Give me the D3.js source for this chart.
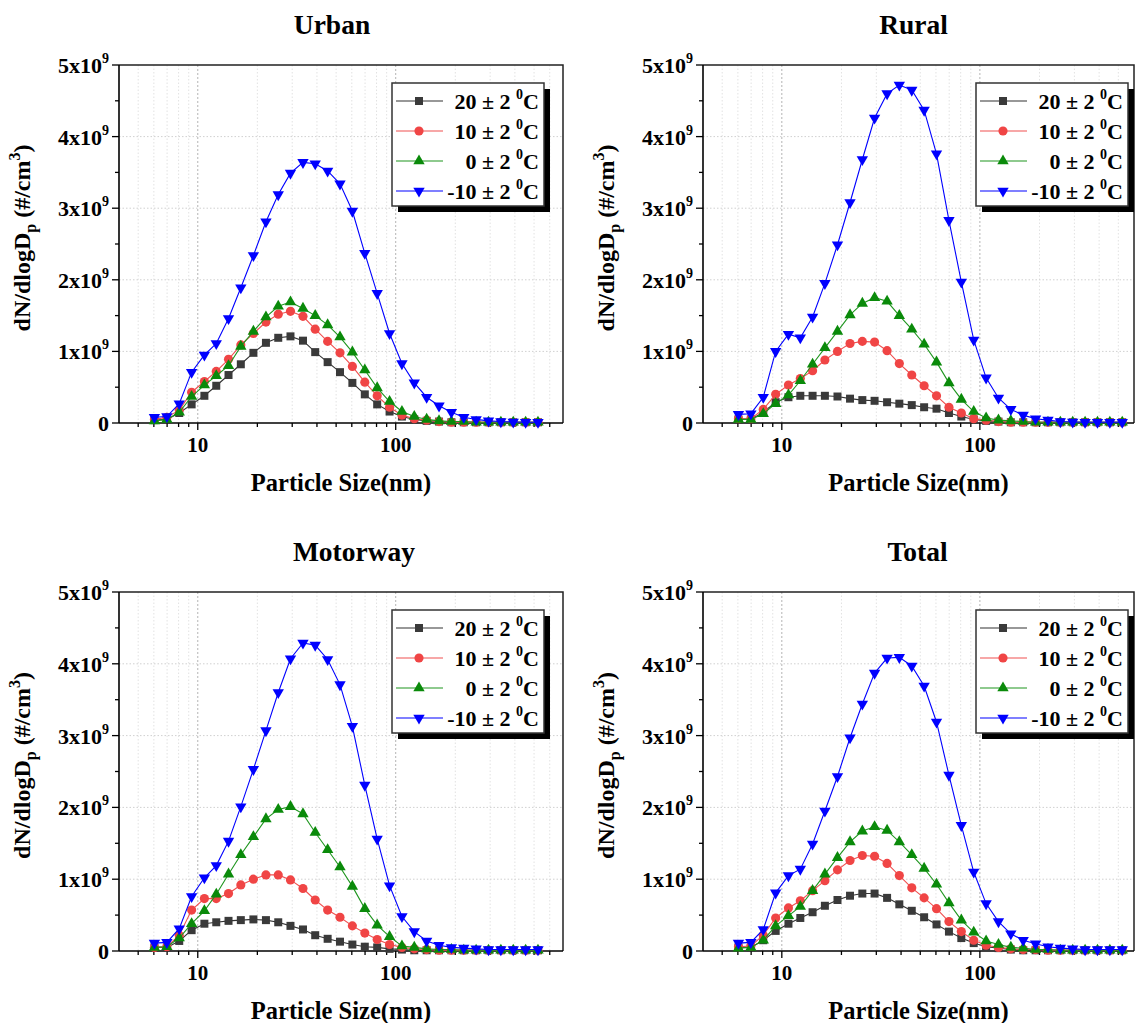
<!DOCTYPE html>
<html lang="en">
<head>
  <meta charset="utf-8" />
  <title>Particle size distributions</title>
  <script src="https://cdn.jsdelivr.net/npm/d3@7"></script>
  <style>
    body { margin: 0; background: #fff; }
    svg { display: block; }
  </style>
</head>
<body>
  <div id="chart"></div>
  <script>
    // FMPS channel mid-points (nm)
    const sizes = [6.04, 6.98, 8.06, 9.31, 10.8, 12.4, 14.3, 16.5, 19.1, 22.1, 25.5, 29.4, 34.0, 39.2, 45.3, 52.3,
                   60.4, 69.8, 80.6, 93.1, 107.5, 124.1, 143.3, 165.5, 191.1, 220.7, 254.8, 294.3, 339.8, 392.4, 453.2, 523.3];
    const temps = ["20", "10", "0", "-10"];
    const titles = ["Urban", "Rural", "Motorway", "Total"];
    const yTicks = [0, 1, 2, 3, 4, 5];   // x10^9
    const xTickLabels = [10, 100];

    // dN/dlogDp in 10^9 #/cm3
    const urban20  = [0.04, 0.05, 0.14, 0.26, 0.38, 0.52, 0.67, 0.82, 0.98, 1.12, 1.19, 1.21, 1.15, 0.99, 0.85, 0.71, 0.56, 0.40, 0.26, 0.16, 0.09, 0.05, 0.03, 0.02, 0.01, 0.01, 0.01, 0.01, 0.01, 0.01, 0.01, 0.01];
    const urban10  = [0.05, 0.08, 0.18, 0.43, 0.58, 0.72, 0.89, 1.09, 1.25, 1.41, 1.52, 1.56, 1.49, 1.31, 1.14, 0.98, 0.79, 0.57, 0.38, 0.22, 0.11, 0.06, 0.04, 0.02, 0.01, 0.01, 0.01, 0.01, 0.01, 0.01, 0.01, 0.01];
    const urban0   = [0.03, 0.05, 0.15, 0.37, 0.53, 0.66, 0.80, 1.07, 1.28, 1.48, 1.63, 1.69, 1.60, 1.50, 1.37, 1.20, 0.99, 0.74, 0.49, 0.30, 0.16, 0.09, 0.05, 0.03, 0.02, 0.02, 0.01, 0.01, 0.01, 0.01, 0.01, 0.01];
    const urbanM10 = [0.08, 0.09, 0.27, 0.71, 0.95, 1.11, 1.46, 1.89, 2.34, 2.81, 3.19, 3.49, 3.64, 3.62, 3.52, 3.34, 2.96, 2.37, 1.81, 1.25, 0.83, 0.56, 0.36, 0.24, 0.15, 0.08, 0.05, 0.03, 0.02, 0.015, 0.01, 0.01];

    const rural20  = [0.05, 0.05, 0.15, 0.29, 0.36, 0.38, 0.38, 0.38, 0.37, 0.34, 0.32, 0.31, 0.29, 0.27, 0.25, 0.22, 0.20, 0.14, 0.09, 0.05, 0.03, 0.02, 0.01, 0.01, 0.01, 0.01, 0.01, 0.01, 0.01, 0.01, 0.01, 0.01];
    const rural10  = [0.06, 0.06, 0.19, 0.40, 0.53, 0.62, 0.73, 0.88, 1.00, 1.11, 1.14, 1.13, 1.01, 0.83, 0.67, 0.52, 0.38, 0.22, 0.14, 0.06, 0.04, 0.02, 0.01, 0.01, 0.01, 0.01, 0.01, 0.01, 0.01, 0.01, 0.01, 0.01];
    const rural0   = [0.05, 0.05, 0.13, 0.27, 0.39, 0.59, 0.82, 1.05, 1.28, 1.51, 1.67, 1.75, 1.70, 1.50, 1.31, 1.10, 0.85, 0.56, 0.33, 0.16, 0.07, 0.04, 0.03, 0.02, 0.01, 0.01, 0.01, 0.01, 0.01, 0.01, 0.01, 0.01];
    const ruralM10 = [0.12, 0.13, 0.36, 1.00, 1.24, 1.19, 1.48, 1.95, 2.49, 3.08, 3.68, 4.26, 4.60, 4.72, 4.65, 4.37, 3.76, 2.83, 1.97, 1.16, 0.63, 0.35, 0.19, 0.11, 0.06, 0.04, 0.02, 0.015, 0.01, 0.01, 0.01, 0.01];

    const motor20  = [0.05, 0.05, 0.14, 0.29, 0.38, 0.40, 0.42, 0.43, 0.44, 0.43, 0.40, 0.35, 0.30, 0.22, 0.17, 0.13, 0.09, 0.06, 0.05, 0.03, 0.02, 0.01, 0.01, 0.01, 0.01, 0.01, 0.01, 0.01, 0.01, 0.01, 0.01, 0.01];
    const motor10  = [0.05, 0.06, 0.22, 0.57, 0.73, 0.73, 0.80, 0.92, 1.00, 1.06, 1.06, 0.99, 0.87, 0.71, 0.57, 0.47, 0.35, 0.25, 0.16, 0.09, 0.05, 0.03, 0.02, 0.01, 0.01, 0.01, 0.01, 0.01, 0.01, 0.01, 0.01, 0.01];
    const motor0   = [0.05, 0.06, 0.18, 0.38, 0.56, 0.79, 1.07, 1.34, 1.59, 1.84, 1.97, 2.01, 1.91, 1.65, 1.41, 1.17, 0.90, 0.59, 0.36, 0.20, 0.07, 0.05, 0.03, 0.02, 0.02, 0.01, 0.01, 0.01, 0.01, 0.01, 0.01, 0.01];
    const motorM10 = [0.11, 0.12, 0.31, 0.76, 1.02, 1.19, 1.53, 2.01, 2.53, 3.07, 3.60, 4.07, 4.29, 4.26, 4.06, 3.71, 3.13, 2.31, 1.56, 0.91, 0.48, 0.27, 0.14, 0.08, 0.05, 0.04, 0.03, 0.02, 0.02, 0.02, 0.02, 0.02];

    const total20  = [0.05, 0.05, 0.15, 0.28, 0.38, 0.46, 0.54, 0.63, 0.71, 0.77, 0.80, 0.80, 0.74, 0.65, 0.56, 0.47, 0.37, 0.27, 0.18, 0.11, 0.06, 0.04, 0.02, 0.01, 0.01, 0.01, 0.01, 0.01, 0.01, 0.01, 0.01, 0.01];
    const total10  = [0.06, 0.07, 0.22, 0.46, 0.60, 0.70, 0.84, 0.98, 1.13, 1.26, 1.33, 1.32, 1.22, 1.05, 0.88, 0.74, 0.59, 0.41, 0.27, 0.15, 0.08, 0.05, 0.03, 0.02, 0.02, 0.01, 0.01, 0.01, 0.01, 0.01, 0.01, 0.01];
    const total0   = [0.04, 0.05, 0.15, 0.35, 0.49, 0.62, 0.84, 1.07, 1.30, 1.52, 1.67, 1.73, 1.68, 1.52, 1.34, 1.15, 0.93, 0.67, 0.43, 0.26, 0.14, 0.09, 0.05, 0.04, 0.02, 0.02, 0.01, 0.01, 0.01, 0.01, 0.01, 0.01];
    const totalM10 = [0.11, 0.12, 0.30, 0.81, 1.05, 1.14, 1.49, 1.95, 2.43, 2.97, 3.44, 3.87, 4.08, 4.09, 3.97, 3.69, 3.19, 2.45, 1.75, 1.10, 0.66, 0.41, 0.24, 0.15, 0.10, 0.06, 0.04, 0.03, 0.02, 0.02, 0.02, 0.02];

    const panelData = [
      [urban20, urban10, urban0, urbanM10],
      [rural20, rural10, rural0, ruralM10],
      [motor20, motor10, motor0, motorM10],
      [total20, total10, total0, totalM10]
    ];

    // series styling
    const fills = ["#3a3a3a", "#f04545", "#0a8a0a", "#0000ff"];
    const strokes = ["#333333", "#f05050", "#1f961f", "#0000ff"];
    const symbols = [
      d3.symbol(d3.symbolSquare, 64),
      d3.symbol(d3.symbolCircle, 66),
      d3.symbol(d3.symbolTriangle, 56),
      d3.symbol(d3.symbolTriangle, 56)
    ];
    const rotations = [0, 0, 0, 180];

    const width = 1138, height = 1023;
    const colX = [[119, 563], [703, 1134]];     // plot left/right for each column
    const rowY = [[65, 423], [592, 951]];       // plot top/bottom for each row
    const xMax = [700, 600];
    const titleShift = [-9, -5, 13, -1];        // titles are not exactly centred in the original

    const svg = d3.select("#chart").append("svg")
      .attr("width", width)
      .attr("height", height)
      .attr("viewBox", [0, 0, width, height])
      .attr("font-family", "Liberation Serif, Times New Roman, serif")
      .attr("font-weight", "bold");

    panelData.forEach((data, p) => {
      const col = p % 2, row = Math.floor(p / 2);
      const [left, right] = colX[col];
      const [top, bottom] = rowY[row];

      const x = d3.scaleLog().domain([4, xMax[col]]).range([left, right]);
      const y = d3.scaleLinear().domain([0, 5]).range([bottom, top]);

      const g = svg.append("g");

      // grid
      const logTicks = [];
      [1, 10, 100].forEach(d => d3.range(1, 10).forEach(k => {
        const v = k * d;
        if (v > 4 && v < xMax[col]) logTicks.push({ v, major: k === 1 });
      }));
      g.append("g").selectAll("line").data(logTicks).join("line")
        .attr("x1", d => x(d.v)).attr("x2", d => x(d.v))
        .attr("y1", top).attr("y2", bottom)
        .attr("stroke", d => d.major ? "#b4b4b4" : "#e2e2e2")
        .attr("stroke-width", 1)
        .attr("stroke-dasharray", d => d.major ? "2,2" : "1.5,2");
      g.append("g").selectAll("line").data(yTicks.slice(1, -1)).join("line")
        .attr("x1", left).attr("x2", right)
        .attr("y1", d => y(d)).attr("y2", d => y(d))
        .attr("stroke", "#d0d0d0")
        .attr("stroke-dasharray", "1.5,2");

      // frame
      g.append("path")
        .attr("d", `M${left},${top}H${right}V${bottom}`)
        .attr("fill", "none").attr("stroke", "#222").attr("stroke-width", 1.5);

      // x axis
      g.append("line")
        .attr("x1", left).attr("x2", right).attr("y1", bottom).attr("y2", bottom)
        .attr("stroke", "#000").attr("stroke-width", 1.6);
      g.append("g").selectAll("line").data(logTicks).join("line")
        .attr("x1", d => x(d.v)).attr("x2", d => x(d.v))
        .attr("y1", bottom).attr("y2", d => bottom + (d.major ? 7 : 4))
        .attr("stroke", "#000").attr("stroke-width", 1.3);
      g.append("g").selectAll("text").data(xTickLabels).join("text")
        .attr("x", d => x(d)).attr("y", bottom + 29)
        .attr("text-anchor", "middle")
        .attr("font-size", 21)
        .text(d => d);

      // y axis
      g.append("line")
        .attr("x1", left).attr("x2", left).attr("y1", top).attr("y2", bottom)
        .attr("stroke", "#000").attr("stroke-width", 1.6);
      g.append("g").selectAll("line").data(d3.range(0, 5.01, 0.5)).join("line")
        .attr("x1", left).attr("x2", d => left - (d % 1 === 0 ? 7 : 4))
        .attr("y1", d => y(d)).attr("y2", d => y(d))
        .attr("stroke", "#000").attr("stroke-width", 1.3);
      const yl = g.append("g").selectAll("text").data(yTicks).join("text")
        .attr("x", left - 10).attr("y", d => y(d) + 8)
        .attr("text-anchor", "end")
        .attr("font-size", 22);
      yl.append("tspan").text(d => d === 0 ? "0" : d + "x10");
      yl.filter(d => d !== 0).append("tspan")
        .attr("dy", -10).attr("font-size", 14).text("9");

      // axis titles
      const yt = g.append("text")
        .attr("transform", `translate(${left - 89},${(top + bottom) / 2 - 6}) rotate(-90)`)
        .attr("text-anchor", "middle")
        .attr("font-size", 24);
      yt.append("tspan").text("dN/dlogD");
      yt.append("tspan").attr("dy", 6).attr("font-size", 16).text("p");
      yt.append("tspan").attr("dy", -6).text(" (#/cm");
      yt.append("tspan").attr("dy", -10).attr("font-size", 16).text("3");
      yt.append("tspan").attr("dy", 10).text(")");

      g.append("text")
        .attr("x", (left + right) / 2).attr("y", bottom + 68)
        .attr("text-anchor", "middle")
        .attr("font-size", 24.5)
        .text("Particle Size(nm)");

      g.append("text")
        .attr("x", (left + right) / 2 + titleShift[p]).attr("y", top - 31)
        .attr("text-anchor", "middle")
        .attr("font-size", 27.5)
        .text(titles[p]);

      // series
      const line = d3.line().x((d, i) => x(sizes[i])).y(d => y(d));
      data.forEach((vals, s) => {
        const sg = g.append("g");
        sg.append("path")
          .attr("d", line(vals))
          .attr("fill", "none")
          .attr("stroke", strokes[s])
          .attr("stroke-width", 1.1);
        sg.selectAll("path.m").data(vals).join("path")
          .attr("class", "m")
          .attr("d", symbols[s])
          .attr("transform", (d, i) => `translate(${x(sizes[i])},${y(d)}) rotate(${rotations[s]})`)
          .attr("fill", fills[s]);
      });

      // legend
      const lx = left + 273, ly = top + 18, lw = 152, lh = 123;
      const lg = g.append("g").attr("transform", `translate(${lx},${ly})`);
      lg.append("rect").attr("x", 6).attr("y", 6).attr("width", lw).attr("height", lh).attr("fill", "#000");
      lg.append("rect").attr("width", lw).attr("height", lh)
        .attr("fill", "#fff").attr("stroke", "#333").attr("stroke-width", 1.5);
      temps.forEach((t, s) => {
        const ry = 18 + s * 30;
        lg.append("line").attr("x1", 4).attr("x2", 51).attr("y1", ry).attr("y2", ry)
          .attr("stroke", strokes[s]).attr("stroke-width", 1.1);
        lg.append("path").attr("d", symbols[s])
          .attr("transform", `translate(27,${ry}) rotate(${rotations[s]})`)
          .attr("fill", fills[s]);
        const lt = lg.append("text")
          .attr("x", 147).attr("y", ry + 8)
          .attr("text-anchor", "end")
          .attr("font-size", 22);
        lt.append("tspan").text(`${t} \u00b1 2 `);
        lt.append("tspan").attr("dy", -10).attr("font-size", 14).text("0");
        lt.append("tspan").attr("dy", 10).text("C");
      });
    });
  </script>
</body>
</html>
